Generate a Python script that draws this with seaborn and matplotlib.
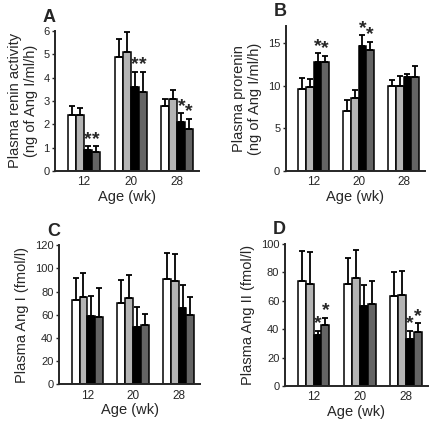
import matplotlib
matplotlib.use('Agg')
import matplotlib.pyplot as plt
import seaborn as sns
import pandas as pd
import numpy as np

# Shared categories
ages = ['12', '20', '28']
groups = ['Group 1', 'Group 2', 'Group 3', 'Group 4']
bar_colors = ['#ffffff', '#b4b4b4', '#000000', '#646464']

# Panel A: plasma renin activity (rows = age, cols = group)
renin_mean = [[2.4, 2.4, 0.9, 0.8],
              [4.9, 5.1, 3.6, 3.4],
              [2.8, 3.1, 2.1, 1.8]]
renin_top = [[2.78, 2.68, 1.05, 1.05],
             [5.65, 5.95, 4.25, 4.25],
             [3.07, 3.45, 2.47, 2.22]]
renin_star = [[0, 0, 1, 1], [0, 0, 1, 1], [0, 0, 1, 1]]

# Panel B: plasma prorenin
prorenin_mean = [[9.6, 9.8, 12.8, 12.8],
                 [7.0, 8.6, 14.6, 14.2],
                 [10.0, 10.0, 11.0, 11.0]]
prorenin_top = [[10.9, 10.8, 13.8, 13.5],
                [8.3, 9.5, 15.9, 15.1],
                [10.6, 11.1, 11.4, 12.3]]
prorenin_star = [[0, 0, 1, 1], [0, 0, 1, 1], [0, 0, 0, 0]]

# Panel C: plasma Ang I
ang1_mean = [[73, 75, 59, 58],
             [70, 74, 49, 51],
             [91, 89, 66, 60]]
ang1_top = [[92, 96, 76, 83],
            [90, 94, 67, 61],
            [113, 112, 86, 75]]
ang1_star = [[0, 0, 0, 0], [0, 0, 0, 0], [0, 0, 0, 0]]

# Panel D: plasma Ang II
ang2_mean = [[74, 72, 36, 43],
             [72, 76, 56, 58],
             [63, 64, 33, 38]]
ang2_top = [[95, 94, 39, 48],
            [90, 96, 71, 74],
            [80, 81, 39, 44]]
ang2_star = [[0, 0, 1, 1], [0, 0, 0, 0], [0, 0, 1, 1]]

sns.set_style('ticks')
plt.rcParams['font.family'] = ['Liberation Sans', 'DejaVu Sans']


def draw_panel(ax, means, tops, stars, ylabel, ymax, yticks, letter):
    rows = []
    for i, age in enumerate(ages):
        for j, grp in enumerate(groups):
            rows.append({'age': age, 'group': grp, 'value': means[i][j]})
    df = pd.DataFrame(rows)
    sns.barplot(data=df, x='age', y='value', hue='group', order=ages,
                hue_order=groups, palette=bar_colors, edgecolor='black',
                linewidth=1.1, width=0.68, gap=0, errorbar=None,
                legend=False, ax=ax)
    # one-sided error bars and significance stars
    bar_containers = list(ax.containers)
    for j, container in enumerate(bar_containers):
        for i, bar in enumerate(container):
            xc = bar.get_x() + bar.get_width() / 2
            h = bar.get_height()
            top = tops[i][j]
            ax.errorbar([xc], [h], yerr=[[0], [top - h]], fmt='none',
                        ecolor='black', elinewidth=1.3, capsize=2.2,
                        capthick=1.3, zorder=3)
            if stars[i][j]:
                ax.text(xc, top - ymax * 0.01, '*', ha='center',
                        va='bottom', fontsize=14, fontweight='bold',
                        clip_on=False)
    ax.set_xlim(-0.62, 2.47)
    ax.set_ylim(0, ymax)
    ax.set_yticks(yticks)
    ax.set_xlabel('Age (wk)', fontsize=10.5, labelpad=1)
    ax.set_ylabel(ylabel, fontsize=10.5, labelpad=4)
    ax.tick_params(axis='x', length=0, labelsize=8.5, pad=4)
    ax.tick_params(axis='y', length=2.5, width=1, labelsize=8, pad=1.5)
    sns.despine(ax=ax)
    for sp in ['left', 'bottom']:
        ax.spines[sp].set_linewidth(1.4)
    ax.text(-0.04, 1.1, letter, transform=ax.transAxes, fontsize=13,
            fontweight='bold', ha='center', va='center')


fig = plt.figure(figsize=(4.37, 4.25), dpi=100)
ax_a = fig.add_axes([0.126, 0.598, 0.330, 0.329])
ax_b = fig.add_axes([0.654, 0.598, 0.318, 0.341])
ax_c = fig.add_axes([0.135, 0.096, 0.323, 0.327])
ax_d = fig.add_axes([0.652, 0.092, 0.327, 0.334])

draw_panel(ax_a, renin_mean, renin_top, renin_star,
           'Plasma renin activity\n(ng of Ang I/ml/h)', 6, range(0, 7), 'A')
draw_panel(ax_b, prorenin_mean, prorenin_top, prorenin_star,
           'Plasma prorenin\n(ng of Ang I/ml/h)', 17, [0, 5, 10, 15], 'B')
draw_panel(ax_c, ang1_mean, ang1_top, ang1_star,
           'Plasma Ang I (fmol/l)', 120, range(0, 121, 20), 'C')
draw_panel(ax_d, ang2_mean, ang2_top, ang2_star,
           'Plasma Ang II (fmol/l)', 100, range(0, 101, 20), 'D')

fig.savefig('out.png', dpi=100)
plt.close(fig)
